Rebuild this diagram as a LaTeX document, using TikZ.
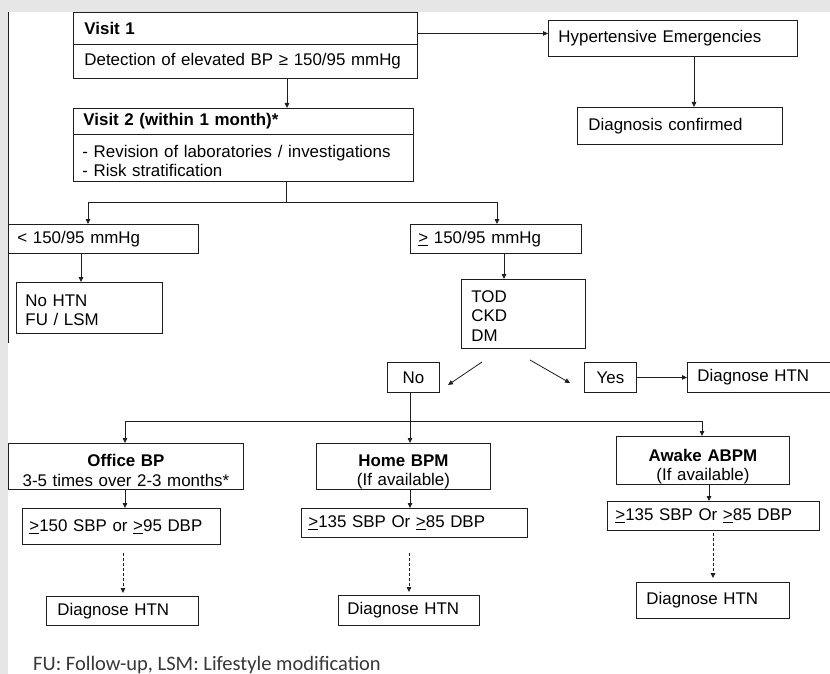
\documentclass[tikz,border=0pt]{standalone}
\usepackage{fontspec}
\setmainfont{Liberation Sans}
\newfontfamily\footfont{Carlito}
\usetikzlibrary{arrows.meta}
\definecolor{bggray}{RGB}{230,230,230}
\definecolor{ink}{RGB}{30,30,30}
\newcommand\bxfont{\fontsize{16.9}{19.5}\selectfont}
\newcommand\ul[1]{\underline{#1}}
\begin{document}
\begin{tikzpicture}[x=1pt,y=-1pt,
  bx/.style={draw=ink, line width=0.9pt, inner ysep=0pt, align=left, font=\bxfont, anchor=north west, text=black},
  cbx/.style={bx, align=center},
  ln/.style={draw=ink, line width=0.8pt},
  arr/.style={ln, -{Triangle[length=5pt,width=4.5pt]}},
  dsh/.style={arr, dash pattern=on 3pt off 2pt}]
\useasboundingbox (0,0) rectangle (830,674);
\fill[bggray] (0,0) rectangle (830,674);
\fill[white] (8,12) rectangle (830,674);
\draw[ink, line width=1.2pt] (8.5,12) -- (8.5,343);

% top
\node[bx, text width=322pt, inner xsep=11pt, minimum height=32pt] (v1h) at (73,12) {\bfseries Visit 1};
\node[bx, text width=322pt, inner xsep=11pt, minimum height=34pt] (v1b) at (73,44) {Detection of elevated BP ≥ 150/95 mmHg};
\node[bx, text width=229pt, inner xsep=10pt, minimum height=36pt] (he) at (548,20) {Hypertensive Emergencies};
\node[bx, text width=183pt, inner xsep=11pt, minimum height=37pt] (dc) at (577,107) {Diagnosis confirmed};
\node[bx, text width=320pt, inner xsep=10pt, minimum height=26pt] (v2h) at (73,108) {\bfseries Visit 2 (within 1 month)*};
\node[bx, text width=322pt, inner xsep=9pt, minimum height=47pt, text height=18pt] (v2b) at (73,134) {- Revision of laboratories / investigations\\- Risk stratification};

% second level
\node[bx, text width=172pt, inner xsep=9pt, minimum height=29pt] (lt) at (8,224) {< 150/95 mmHg};
\node[bx, text width=128pt, inner xsep=9pt, minimum height=51pt, text height=16pt] (noh) at (16,282) {No HTN\\FU / LSM};
\node[bx, text width=155pt, inner xsep=8pt, minimum height=29pt] (ge) at (410,224) {\ul{>} 150/95 mmHg};
\node[bx, text width=104pt, inner xsep=10pt, minimum height=69pt, text height=16pt] (tod) at (461,279) {TOD\\CKD\\DM};
\node[cbx, text width=52pt, inner xsep=0pt, minimum height=30pt] (no) at (387,362) {No};
\node[cbx, text width=52pt, inner xsep=0pt, minimum height=30pt] (yes) at (584,362) {Yes};
\node[bx, text width=140pt, inner xsep=10pt, minimum height=30pt] (dhr) at (687,362) {Diagnose HTN};

% third level
\node[cbx, text width=235pt, inner xsep=0pt, minimum height=46pt, text height=20pt] (off) at (8,443) {\textbf{Office BP}\\3-5 times over 2-3 months*};
\node[cbx, text width=174pt, inner xsep=0pt, minimum height=43pt, text height=23pt] (hom) at (316,443) {\textbf{Home BPM}\\(If available)};
\node[cbx, text width=173pt, inner xsep=0pt, minimum height=43pt, text height=25pt] (awk) at (616,436) {\textbf{Awake ABPM}\\(If available)};
\node[bx, text width=184pt, inner xsep=7pt, minimum height=36pt] (c1) at (22,508) {\ul{>}150 SBP or \ul{>}95 DBP};
\node[bx, text width=212pt, inner xsep=7pt, minimum height=29pt] (c2) at (301,508) {\ul{>}135 SBP Or \ul{>}85 DBP};
\node[bx, text width=196pt, inner xsep=8pt, minimum height=29pt] (c3) at (607,501) {\ul{>}135 SBP Or \ul{>}85 DBP};
\node[bx, text width=130pt, inner xsep=11pt, minimum height=29pt] (d1) at (46,596) {Diagnose HTN};
\node[bx, text width=123pt, inner xsep=9pt, minimum height=30pt] (d2) at (338,595) {Diagnose HTN};
\node[bx, text width=133pt, inner xsep=10pt, minimum height=36pt] (d3) at (636,582) {Diagnose HTN};

% footnote
\node[anchor=base west, inner sep=0pt, font=\footfont\fontsize{20.5}{24}\selectfont, text=black!78] (fn) at (33,670) {FU: Follow-up, LSM: Lifestyle modification};

% connectors top
\draw[arr] ([yshift=-5pt]v1h.east) coordinate (a1) -- (a1 -| he.west);
\coordinate (xhe) at (694,0);
\draw[arr] (xhe |- he.south) -- (xhe |- dc.north);
\coordinate (x1) at (287,0);
\draw[arr] (x1 |- v1b.south) -- (x1 |- v2h.north);

% split after visit 2
\coordinate (jm) at (286,202);
\coordinate (jl) at (88,202);
\coordinate (jr) at (497,202);
\draw[ln] (jm |- v2b.south) -- (jm);
\draw[ln] (jl) -- (jr);
\draw[arr] (jl) -- (jl |- lt.north);
\draw[arr] (jr) -- (jr |- ge.north);
\coordinate (x2) at (81,0);
\draw[arr] (x2 |- lt.south) -- (x2 |- noh.north);
\coordinate (x3) at (504,0);
\draw[arr] (x3 |- ge.south) -- (x3 |- tod.north);

% TOD branches
\coordinate (tn1) at (482,362);
\coordinate (tn2) at (448,385);
\coordinate (ty1) at (530,360);
\coordinate (ty2) at (570,383);
\draw[arr] (tn1) -- (tn2);
\draw[arr] (ty1) -- (ty2);
\draw[arr] (yes) -- (dhr);

% split after No
\coordinate (bm) at (410,421);
\coordinate (bl) at (125,421);
\coordinate (br) at (702,421);
\draw[ln] (bm |- no.south) -- (bm);
\draw[ln] (bl) -- (br);
\draw[arr] (bl) -- (bl |- off.north);
\draw[arr] (bm) -- (bm |- hom.north);
\draw[arr] (br) -- (br |- awk.north);

\coordinate (x4) at (125,0);
\draw[arr] (x4 |- off.south) -- (x4 |- c1.north);
\coordinate (x5) at (410,0);
\draw[arr] (x5 |- hom.south) -- (x5 |- c2.north);
\coordinate (x6) at (709,0);
\draw[arr] (x6 |- awk.south) -- (x6 |- c3.north);

\coordinate (x7) at (123,0);
\draw[dsh] ([yshift=-8pt]x7 |- c1.south) -- ([yshift=3pt]x7 |- d1.north);
\coordinate (x8) at (409,0);
\draw[dsh] ([yshift=-15pt]x8 |- c2.south) -- ([yshift=3pt]x8 |- d2.north);
\coordinate (x9) at (713,0);
\draw[dsh] ([yshift=-2pt]x9 |- c3.south) -- ([yshift=4pt]x9 |- d3.north);
\end{tikzpicture}
\end{document}
